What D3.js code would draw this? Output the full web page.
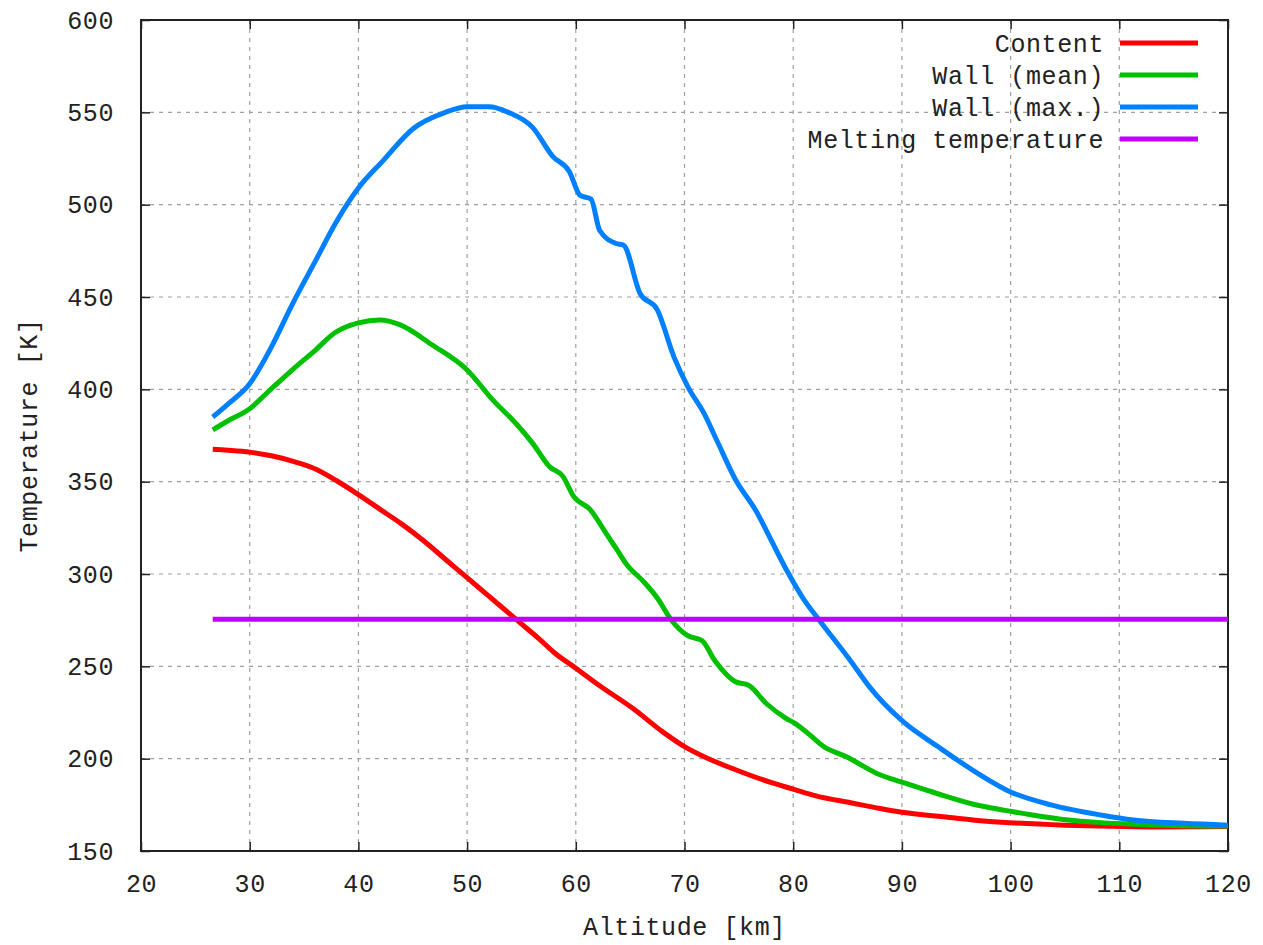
<!DOCTYPE html>
<html>
<head>
<meta charset="utf-8">
<script src="https://cdn.jsdelivr.net/npm/d3@7"></script>
<style>
  body { margin: 0; background: #fff; }
  svg text { font-family: "Liberation Mono", "DejaVu Sans Mono", monospace; font-size: 25px; fill: #222; letter-spacing: 0.6px; }
</style>
</head>
<body>
<div id="chart"></div>
<script>
// altitude [km] / temperature [K]
const contentAlt = [26.6, 28, 30, 32, 34, 36, 38, 40, 42, 44, 46, 48, 50, 52, 54, 55, 56.6, 58, 60, 62.2, 65.3, 68, 70, 72, 74.7, 78, 80, 82, 85.4, 88, 90, 94.7, 97, 100, 105, 108.3, 113, 120];
const contentT = [367.5, 367, 366, 364, 361, 357, 350.5, 343, 335, 327, 318, 308, 298, 288, 278, 273, 265, 257.5, 249, 239.5, 227, 214.5, 206.5, 200.5, 194, 187, 183.5, 180, 176, 173, 171, 168, 166.5, 165.3, 164, 163.5, 163, 163.2];

const meanAlt = [26.6, 28, 30, 31.7, 34, 36, 37.8, 40, 42, 43.8, 46.8, 50, 52.4, 54.5, 56, 57.6, 58.8, 59.8, 61.3, 62.9, 63.8, 64.7, 66.3, 67.5, 68.8, 70.3, 71.6, 72.8, 74.7, 75.9, 77.5, 79.3, 80.2, 81.5, 82.7, 84.9, 87.7, 90.3, 93.3, 96.4, 99.5, 102, 105.3, 108, 111.3, 115, 120];
const meanT = [378, 383, 389.5, 398.7, 411, 421, 430.5, 436, 437.5, 435, 424, 410.5, 394, 381.5, 371, 358, 353, 342, 335, 321, 313, 305, 295.5, 287, 275, 266.6, 264, 253, 241.6, 239.8, 230, 222, 219, 213, 207, 201, 192, 186.7, 181, 175.6, 172, 169.5, 166.8, 165.5, 164.5, 163.8, 163.5];

const maxAlt = [26.6, 28, 30, 32, 34, 36, 38, 40, 42.3, 45, 48, 50, 52, 53.8, 56, 57.9, 59.4, 60.4, 61.4, 62.2, 63.7, 64.4, 65.9, 67.5, 69, 70.3, 71.8, 73, 74.7, 76.6, 78, 79.4, 81, 82.4, 85.4, 87, 90.2, 93.2, 96.3, 100, 103.7, 108.3, 111.3, 115.9, 120];
const maxT = [385, 392, 403, 423, 447, 469, 491, 509, 524, 541, 550, 553, 553, 550, 542, 526, 518, 505, 503, 486, 479, 478, 452, 443, 418, 401.5, 387, 372, 351, 334, 318, 302, 286, 275, 252, 239, 219.6, 207, 194.6, 182, 175, 169.5, 166.8, 165, 164];

const meltAlt = [26.6, 120];
const meltT = [275.5, 275.5];

const seriesNames = ["Content", "Wall (mean)", "Wall (max.)", "Melting temperature"];
const seriesColors = ["#ff0000", "#00c000", "#0080ff", "#c000ff"];

const xTicks = [20, 30, 40, 50, 60, 70, 80, 90, 100, 110, 120];
const yTicks = [150, 200, 250, 300, 350, 400, 450, 500, 550, 600];

const margin = {top: 20, right: 35, bottom: 94, left: 141};
const width = 1263 - margin.left - margin.right;
const height = 945 - margin.top - margin.bottom;

const svg = d3.select("#chart").append("svg")
  .attr("width", 1263)
  .attr("height", 945);

const g = svg.append("g")
  .attr("transform", "translate(" + margin.left + "," + margin.top + ")");

const x = d3.scaleLinear().domain([20, 120]).range([0, width]);
const y = d3.scaleLinear().domain([150, 600]).range([height, 0]);

// grid
g.append("g").selectAll("line")
  .data(xTicks.slice(1, -1))
  .enter().append("line")
  .attr("x1", d => x(d)).attr("x2", d => x(d))
  .attr("y1", 0).attr("y2", height)
  .attr("stroke", "#a0a0a0").attr("stroke-width", 1.2)
  .attr("stroke-dasharray", "4,5");

g.append("g").selectAll("line")
  .data(yTicks.slice(1, -1))
  .enter().append("line")
  .attr("x1", 0).attr("x2", width)
  .attr("y1", d => y(d)).attr("y2", d => y(d))
  .attr("stroke", "#a0a0a0").attr("stroke-width", 1.2)
  .attr("stroke-dasharray", "4,5");

// axes with inward ticks, mirrored on top and right
const tickLen = 9;
const xAxis = g.append("g").attr("transform", "translate(0," + height + ")")
  .call(d3.axisBottom(x).tickValues(xTicks).tickSize(-tickLen).tickPadding(22 + tickLen));
const yAxis = g.append("g")
  .call(d3.axisLeft(y).tickValues(yTicks).tickSize(-tickLen).tickPadding(18 + tickLen));
g.append("g").call(d3.axisTop(x).tickValues(xTicks).tickSize(-tickLen).tickFormat(""));
g.append("g").attr("transform", "translate(" + width + ",0)")
  .call(d3.axisRight(y).tickValues(yTicks).tickSize(-tickLen).tickFormat(""));

g.selectAll(".domain").remove();
g.selectAll(".tick line").attr("stroke", "#222").attr("stroke-width", 1.5);
g.selectAll(".tick text").attr("font-size", null).attr("font-family", null).attr("fill", null);
xAxis.selectAll(".tick text").attr("dy", "0.71em").attr("y", 23);

// frame
g.append("rect")
  .attr("x", 0).attr("y", 0).attr("width", width).attr("height", height)
  .attr("fill", "none").attr("stroke", "#222").attr("stroke-width", 2);

// curves
const line = d3.line()
  .curve(d3.curveMonotoneX)
  .x(d => x(d[0]))
  .y(d => y(d[1]));

const series = [
  d3.zip(contentAlt, contentT),
  d3.zip(meanAlt, meanT),
  d3.zip(maxAlt, maxT),
  d3.zip(meltAlt, meltT)
];

series.forEach((pts, i) => {
  g.append("path")
    .datum(pts)
    .attr("d", line)
    .attr("fill", "none")
    .attr("stroke", seriesColors[i])
    .attr("stroke-width", 5)
    .attr("stroke-linejoin", "round");
});

// legend
const legend = g.append("g");
seriesNames.forEach((name, i) => {
  const ly = 23 + i * 32;
  legend.append("text")
    .attr("x", 1104 - margin.left)
    .attr("y", ly)
    .attr("dy", "0.35em")
    .attr("text-anchor", "end")
    .text(name);
  legend.append("line")
    .attr("x1", 1120 - margin.left).attr("x2", 1198 - margin.left)
    .attr("y1", ly).attr("y2", ly)
    .attr("stroke", seriesColors[i])
    .attr("stroke-width", 5);
});

// axis titles
svg.append("text")
  .attr("transform", "translate(28," + (margin.top + height / 2) + ") rotate(-90)")
  .attr("text-anchor", "middle")
  .attr("dy", "0.35em")
  .text("Temperature [K]");

svg.append("text")
  .attr("x", margin.left + width / 2)
  .attr("y", 926)
  .attr("text-anchor", "middle")
  .attr("dy", "0.35em")
  .text("Altitude [km]");
</script>
</body>
</html>
